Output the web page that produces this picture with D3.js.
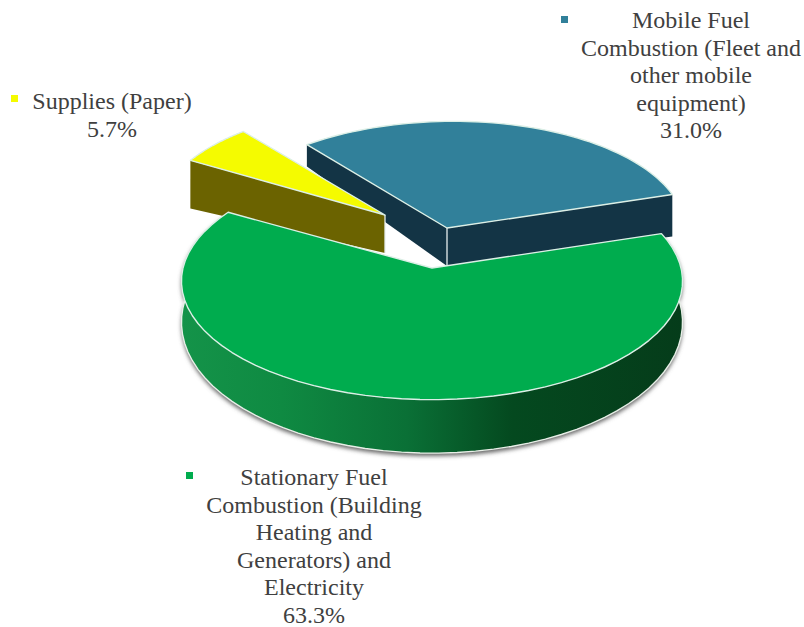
<!DOCTYPE html>
<html>
<head>
<meta charset="utf-8">
<script src="https://cdn.jsdelivr.net/npm/d3@7"></script>
<style>
    html, body { margin: 0; padding: 0; background: #fff; }
    text { font-family: "Liberation Serif", serif; font-size: 24px; fill: #404040; text-anchor: middle; }
</style>
</head>
<body>
<svg id="chart" width="804" height="627"></svg>
<script>

// Data
const categories = ["Mobile Fuel Combustion", "Stationary Fuel Combustion", "Supplies"];
const shares = [31.0, 63.3, 5.7];
const percentLabels = ["31.0%", "63.3%", "5.7%"];
const labelLines = [
    ["Mobile Fuel", "Combustion (Fleet and", "other mobile", "equipment)"],
    ["Stationary Fuel", "Combustion (Building", "Heating and", "Generators) and", "Electricity"],
    ["Supplies (Paper)"]
];
const topColours = ["#31809a", "#00ac4e", "#f5fb00"];
const wallColours = ["#133445", "url(#greenWall)", "#6b6300"];

// Layout of each slice: apex, radii, shear, perspective distance and wall height (a + b*u + c*v)
const sliceLayout = [
    {ox: 447, oy: 228, rx: 238, ry: 112, sk: -6.5, d: 20, wall: [38, 8.6, 13.6], edges: ["start", "end"]},
    {ox: 432, oy: 268, rx: 249, ry: 117, sk: 0, d: 9, wall: [39.5, 0, 14], edges: []},
    {ox: 385, oy: 215, rx: 228, ry: 110, sk: 0, d: 40, wall: [38, -11.6, 0], edges: ["start"]}
];
const labelLayout = [
    {x: 691, y: 28, keyX: 561, keyY: 16},
    {x: 314, y: 485, keyX: 186, keyY: 472},
    {x: 112, y: 109, keyX: 11, keyY: 95}
];
const lineStep = 27.5;

const svg = d3.select("#chart");

// Green wall gradient and soft shadow
const defs = svg.append("defs");
const gradient = defs.append("linearGradient")
    .attr("id", "greenWall")
    .attr("gradientUnits", "userSpaceOnUse")
    .attr("x1", 181).attr("x2", 683).attr("y1", 0).attr("y2", 0);
[[0, "#149349"], [0.2, "#0f8a42"], [0.45, "#0a7036"], [0.66, "#04491f"], [1, "#053c1a"]].forEach(s => {
    gradient.append("stop").attr("offset", s[0]).attr("stop-color", s[1]);
});
defs.append("filter").attr("id", "soft")
    .attr("x", "-5%").attr("y", "-5%").attr("width", "110%").attr("height", "120%")
    .append("feGaussianBlur").attr("stdDeviation", 2);

// Pie angles, blue slice starts a little left of 12 o'clock
const pie = d3.pie().sort(null).startAngle(-39.3 * Math.PI / 180).endAngle((360 - 39.3) * Math.PI / 180);
const slices = pie(shares);

// Flat pie coordinates to the tilted screen plane
function point(layout, u, v, drop) {
    const k = layout.d / (layout.d - v);
    const h = drop ? layout.wall[0] + layout.wall[1] * u + layout.wall[2] * v : 0;
    return [layout.ox + layout.rx * u * k + layout.sk * v, layout.oy + layout.ry * v * k + h];
}
function rim(slice, drop) {
    const steps = d3.range(0, 61).map(i => slice.startAngle + (slice.endAngle - slice.startAngle) * i / 60);
    return steps.map(a => point(sliceLayout[slice.index], Math.sin(a), -Math.cos(a), drop));
}
const line = d3.line();

function drawSlice(slice) {
    const layout = sliceLayout[slice.index];
    const g = svg.append("g");
    const apexTop = point(layout, 0, 0, false), apexBottom = point(layout, 0, 0, true);

    // Radial walls
    layout.edges.forEach(edge => {
        const a = edge === "start" ? slice.startAngle : slice.endAngle;
        const u = Math.sin(a), v = -Math.cos(a);
        g.append("path")
            .attr("d", line([apexTop, point(layout, u, v, false), point(layout, u, v, true), apexBottom]) + "Z")
            .attr("fill", wallColours[slice.index]);
    });
    if (layout.edges.length) {
        g.append("path")
            .attr("d", line([apexTop, apexBottom]))
            .attr("stroke", "#e6eeee").attr("stroke-width", 1.3);
    } else {
        // Round wall, with shadow under it
        const top = rim(slice, false), bottom = rim(slice, true);
        const wall = line(top.concat(bottom.slice().reverse())) + "Z";
        g.append("path")
            .attr("d", wall)
            .attr("transform", "translate(0,3)")
            .attr("fill", "#666")
            .attr("filter", "url(#soft)");
        g.append("path").attr("d", wall).attr("fill", wallColours[slice.index]);
        g.append("path")
            .attr("d", line(bottom))
            .attr("fill", "none").attr("stroke", "#e8efe8").attr("stroke-width", 1.4);
    }

    // Top face
    g.append("path")
        .attr("d", line([apexTop].concat(rim(slice, false))) + "Z")
        .attr("fill", topColours[slice.index])
        .attr("stroke", "#dcefe6").attr("stroke-width", 1.4).attr("stroke-linejoin", "round");
}

// Blue, then yellow, green sits on top of both
[0, 2, 1].forEach(i => drawSlice(slices[i]));

// Labels and their small colour keys
categories.forEach((name, i) => {
    const pos = labelLayout[i];
    const g = svg.append("g").attr("class", "label");
    g.append("rect")
        .attr("x", pos.keyX).attr("y", pos.keyY)
        .attr("width", 7).attr("height", 7)
        .attr("fill", topColours[i]);
    labelLines[i].concat(percentLabels[i]).forEach((t, j) => {
        g.append("text").attr("x", pos.x).attr("y", pos.y + j * lineStep).text(t);
    });
});
</script>
</body>
</html>
